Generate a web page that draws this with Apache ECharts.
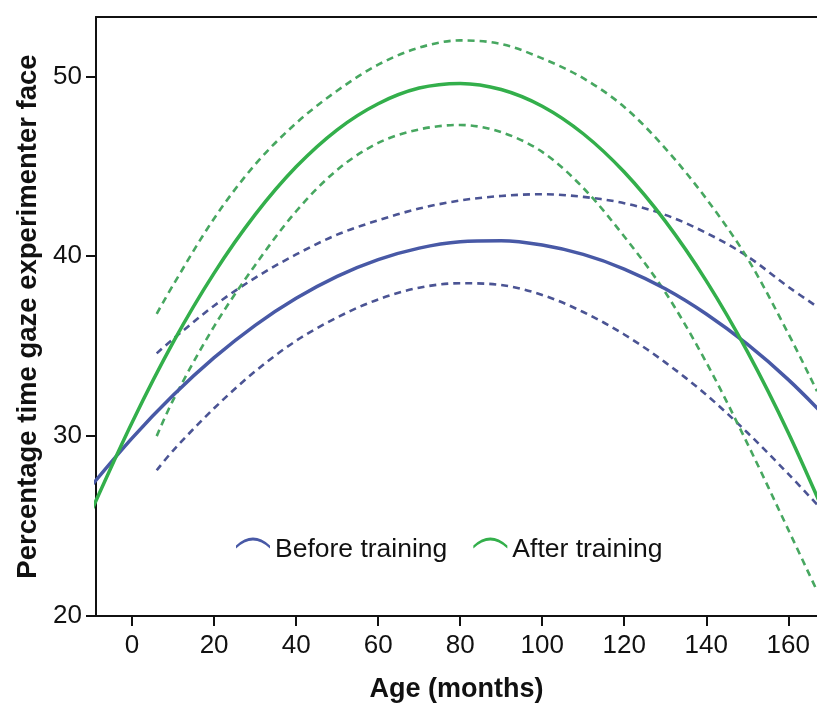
<!DOCTYPE html>
<html>
<head>
<meta charset="utf-8">
<script src="https://cdn.jsdelivr.net/npm/echarts@6/dist/echarts.min.js"></script>
<style>
  html, body { margin: 0; padding: 0; background: #ffffff; }
  #chart { width: 817px; height: 704px; }
</style>
</head>
<body>
<div id="chart"></div>
<script>
// Age (months) at which each fitted curve is sampled
const fitAges = [-10, 0, 10, 20, 30, 40, 50, 60, 70, 80, 90, 100, 110, 120, 130, 140, 150, 160, 170];
const ciAges  = [6, 10, 20, 30, 40, 50, 60, 70, 80, 90, 100, 110, 120, 130, 140, 150, 160, 167];

// Quadratic fit lines (percentage of time gazing at the experimenter's face)
const beforeFit = [27.22, 29.89, 32.27, 34.36, 36.16, 37.66, 38.88, 39.81, 40.45, 40.80, 40.86, 40.62, 40.10, 39.29, 38.19, 36.79, 35.11, 33.14, 30.87];
const afterFit  = [25.80, 30.76, 35.21, 39.06, 42.31, 44.97, 47.03, 48.48, 49.35, 49.61, 49.27, 48.34, 46.81, 44.68, 41.95, 38.63, 34.71, 30.19, 25.07];

// 95% confidence bands around each fit
const beforeUpper = [34.6, 35.4, 37.25, 38.8, 40.1, 41.2, 42.0, 42.65, 43.1, 43.35, 43.45, 43.3, 42.95, 42.3, 41.3, 40.0, 38.3, 37.2];
const beforeLower = [28.1, 29.2, 31.55, 33.6, 35.3, 36.6, 37.6, 38.25, 38.5, 38.4, 37.85, 36.9, 35.65, 34.1, 32.3, 30.2, 27.9, 26.2];
const afterUpper  = [36.8, 38.4, 42.1, 45.1, 47.4, 49.2, 50.65, 51.6, 52.0, 51.8, 51.0, 49.9, 48.3, 46.0, 43.2, 39.9, 35.7, 32.5];
const afterLower  = [30.0, 32.0, 36.1, 39.5, 42.5, 44.8, 46.3, 47.05, 47.3, 46.9, 45.8, 43.8, 41.1, 38.0, 34.1, 29.6, 24.8, 21.4];

// Axis tick labels
const xTicks = [0, 20, 40, 60, 80, 100, 120, 140, 160];
const yTicks = [20, 30, 40, 50];

const BLUE = '#4859a6';
const BLUE_DASH = '#4b5494';
const GREEN = '#33af4b';
const GREEN_DASH = '#47a760';
const INK = '#111111';
const FONT = '"Liberation Sans", Arial, Helvetica, sans-serif';

function pairs(xs, ys) { return xs.map((x, i) => [x, ys[i]]); }

// smooth of 1/3 turns evenly spaced samples into a Catmull-Rom style curve
function fitSeries(name, xs, ys, color) {
  return {
    name: name, type: 'line', data: pairs(xs, ys),
    smooth: 0.333, showSymbol: false, symbol: 'none', clip: true,
    lineStyle: { color: color, width: 3.5 },
    itemStyle: { color: color, borderWidth: 0 },
    silent: true, z: 3
  };
}
function bandSeries(name, xs, ys, color) {
  return {
    name: name, type: 'line', data: pairs(xs, ys),
    smooth: 0.333, showSymbol: false, symbol: 'none', clip: true,
    lineStyle: { color: color, width: 2.6, type: [7, 5] },
    itemStyle: { color: color },
    silent: true, z: 2
  };
}

// Arc-shaped legend marker; the tiny speck at the bottom lifts the arc above the text centre
const arcIcon = 'path://M0,10 Q17,-6 34,10 L34,13 Q17,-3 0,13 Z M17,26 L17.01,26 L17,26.01 Z';

const chart = echarts.init(document.getElementById('chart'), null, { renderer: 'canvas' });
chart.setOption({
  animation: false,
  backgroundColor: '#ffffff',
  grid: { left: 96, top: 17, right: 0, bottom: 88, containLabel: false, outerBoundsMode: 'none' },
  legend: {
    data: ['Before training', 'After training'],
    left: 236, top: 536, padding: 0,
    icon: arcIcon, itemWidth: 34, itemHeight: 24, itemGap: 26,
    itemStyle: { borderWidth: 0 },
    textStyle: { fontFamily: FONT, fontSize: 26.5, color: INK, padding: [0, 0, 0, 0] }
  },
  xAxis: [{
    type: 'value', min: -8.8, max: 167,
    name: 'Age (months)', nameLocation: 'middle', nameGap: 60,
    nameTextStyle: { fontFamily: FONT, fontSize: 27, fontWeight: 'bold', color: INK },
    axisLine: { show: true, onZero: false, lineStyle: { color: INK, width: 2 } },
    axisTick: { show: true, length: 10, customValues: xTicks, lineStyle: { color: INK, width: 2 } },
    axisLabel: { customValues: xTicks, margin: 17, fontFamily: FONT, fontSize: 26, color: INK },
    splitLine: { show: false }
  }, {
    type: 'value', min: -8.8, max: 167, position: 'top',
    axisLine: { show: true, onZero: false, lineStyle: { color: INK, width: 2 } },
    axisTick: { show: false }, axisLabel: { show: false }, splitLine: { show: false }
  }],
  yAxis: {
    type: 'value', min: 20, max: 53.3,
    name: 'Percentage time gaze experimenter face', nameLocation: 'middle', nameGap: 50,
    nameTextStyle: { fontFamily: FONT, fontSize: 27.5, fontWeight: 'bold', color: INK },
    axisLine: { show: true, onZero: false, lineStyle: { color: INK, width: 2 } },
    axisTick: { show: true, length: 10, customValues: yTicks, lineStyle: { color: INK, width: 2 } },
    axisLabel: { customValues: yTicks, margin: 14, fontFamily: FONT, fontSize: 26, color: INK },
    splitLine: { show: false }
  },
  series: [
    bandSeries('Before training upper', ciAges, beforeUpper, BLUE_DASH),
    bandSeries('Before training lower', ciAges, beforeLower, BLUE_DASH),
    bandSeries('After training upper', ciAges, afterUpper, GREEN_DASH),
    bandSeries('After training lower', ciAges, afterLower, GREEN_DASH),
    fitSeries('Before training', fitAges, beforeFit, BLUE),
    fitSeries('After training', fitAges, afterFit, GREEN)
  ]
});
</script>
</body>
</html>
